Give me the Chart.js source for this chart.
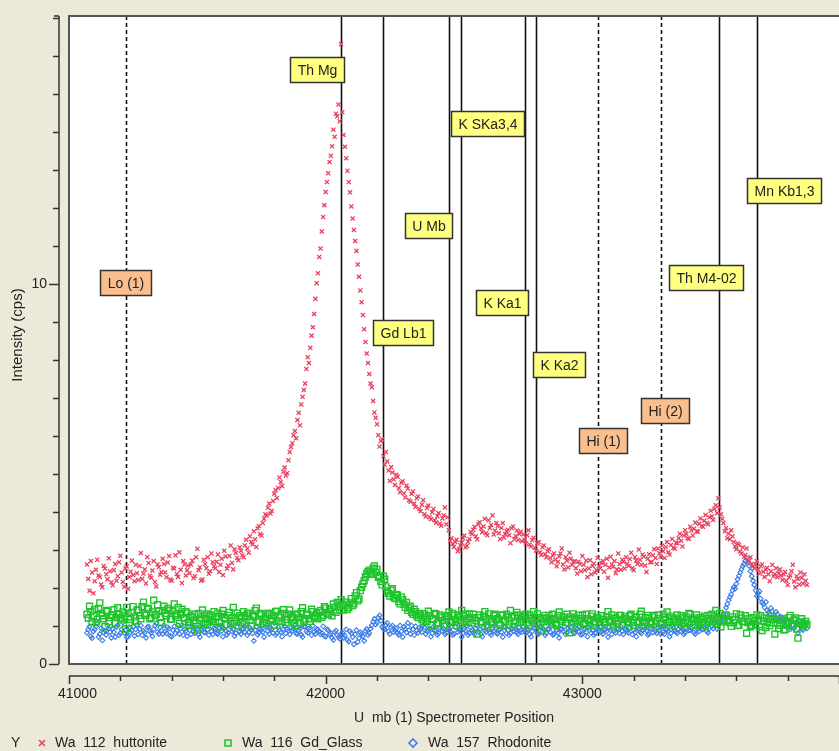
<!DOCTYPE html>
<html>
<head>
<meta charset="utf-8">
<script src="https://cdn.jsdelivr.net/npm/chart.js@4/dist/chart.umd.min.js"></script>
<style>
  html, body { margin: 0; padding: 0; background: #ECE9D8; }
  canvas { display: block; }
</style>
</head>
<body>
<canvas id="myChart" width="839" height="751"></canvas>
<script>
// spectrometer scan: two interleaved passes, 10 units apart, the second shifted by 5
const scanStart = 41070;
const scanStartB = 41075;
const scanStep = 10;

// Wa 112 huttonite (cps)
const huttonite = [
  2.62, 1.93, 2.41, 2.18, 2.74, 2.29, 2.02, 2.51, 2.23, 2.44,
  2.07, 2.63, 2.31, 2.85, 2.16, 2.52, 1.98, 2.43, 2.34, 2.61,
  2.21, 2.92, 2.38, 2.12, 2.66, 2.27, 2.71, 2.04, 2.55, 2.42,
  2.63, 2.28, 2.84, 2.19, 2.51, 2.37, 2.94, 2.13, 2.62, 2.47,
  2.39, 2.72, 2.31, 3.03, 2.54, 2.22, 2.63, 2.81, 2.44, 2.68,
  2.52, 2.88, 2.61, 2.34, 2.83, 2.59, 3.12, 2.49, 2.92, 2.73,
  2.98, 2.81, 3.27, 2.93, 3.21, 3.49, 3.08, 3.63, 3.38, 3.82,
  3.91, 4.22, 4.03, 4.48, 4.37, 4.91, 4.68, 5.17, 5.02, 5.58,
  5.81, 6.13, 6.42, 6.28, 7.03, 7.38, 8.07, 8.32, 8.86, 9.61,
  10.28, 10.93, 11.76, 12.42, 12.91, 13.37, 14.06, 14.48, 14.72, 16.31,
  13.92, 13.31, 12.68, 12.04, 11.42, 10.87, 10.19, 9.52, 8.81, 8.17,
  7.63, 7.28, 6.62, 6.31, 5.72, 5.91, 5.24, 5.33, 4.82, 5.04,
  4.71, 4.93, 4.52, 4.81, 4.38, 4.62, 4.27, 4.54, 4.13, 4.41,
  4.02, 4.31, 3.88, 4.17, 3.81, 4.08, 3.72, 3.97, 3.64, 3.91,
  3.68, 3.52, 3.31, 3.08, 3.27, 3.02, 3.19, 3.38, 3.11, 3.29,
  3.42, 3.61, 3.28, 3.73, 3.47, 3.82, 3.39, 3.58, 3.91, 3.51,
  3.63, 3.29, 3.71, 3.42, 3.53, 3.18, 3.62, 3.37, 3.26, 3.48,
  3.41, 3.17, 3.52, 3.09, 3.32, 2.98, 3.21, 2.87, 3.12, 2.81,
  3.02, 2.68, 2.91, 2.57, 2.83, 3.04, 2.49, 2.72, 2.93, 2.61,
  2.71, 2.38, 2.63, 2.84, 2.47, 2.29, 2.73, 2.58, 2.41, 2.79,
  2.52, 2.71, 2.61, 2.27, 2.82, 2.56, 2.39, 2.91, 2.48, 2.69,
  2.81, 2.58, 2.93, 2.47, 2.72, 3.01, 2.61, 2.83, 2.42, 2.89,
  2.68, 3.02, 2.63, 2.92, 3.11, 2.79, 3.21, 2.88, 3.29, 3.03,
  3.18, 3.43, 3.09, 3.52, 3.31, 3.61, 3.38, 3.72, 3.48, 3.83,
  3.61, 3.92, 3.68, 4.03, 3.79, 4.18, 4.36, 3.94, 3.71, 3.58,
  3.43, 3.52, 3.21, 3.02, 3.13, 2.91, 2.82, 3.04, 2.71, 2.63,
  2.52, 2.71, 2.38, 2.62, 2.29, 2.53, 2.18, 2.61, 2.37, 2.28,
  2.49, 2.21, 2.42, 2.08, 2.33, 2.61, 2.02, 2.24, 2.41, 2.12,
  2.19
];
const huttoniteB = [
  2.24, 2.71, 1.86, 2.48, 2.33, 2.09, 2.58, 2.36, 2.78, 2.15,
  2.47, 2.19, 2.68, 2.41, 2.03, 2.57, 2.29, 2.72, 2.18, 2.39,
  2.58, 2.24, 2.49, 2.81, 2.32, 2.46, 2.16, 2.62, 2.35, 2.77,
  2.41, 2.67, 2.22, 2.53, 2.86, 2.29, 2.48, 2.71, 2.33, 2.59,
  2.62, 2.26, 2.81, 2.47, 2.19, 2.74, 2.52, 2.38, 2.91, 2.57,
  2.69, 2.42, 2.77, 2.98, 2.51, 2.84, 2.66, 3.02, 2.79, 3.07,
  2.86, 3.12, 3.04, 3.36, 3.15, 3.28, 3.57, 3.42, 3.71, 3.94,
  4.11, 3.96, 4.29, 4.58, 4.63, 4.79, 5.06, 4.96, 5.36, 5.71,
  6.02, 5.94, 6.61, 6.83, 7.21, 7.76, 7.92, 8.64, 9.21, 10.02,
  10.71, 11.38, 12.07, 12.68, 13.21, 13.62, 13.87, 14.41, 14.28, 14.52,
  13.61, 12.98, 12.41, 11.72, 11.13, 10.51, 9.83, 9.18, 8.47, 7.92,
  7.38, 6.92, 6.48, 6.02, 5.87, 5.47, 5.58, 5.09, 5.18, 4.86,
  4.98, 4.63, 4.77, 4.49, 4.69, 4.31, 4.48, 4.22, 4.36, 4.08,
  4.19, 3.94, 4.11, 3.86, 3.99, 3.78, 3.89, 3.69, 3.83, 4.12,
  3.86, 3.24, 3.16, 3.21, 2.97, 3.12, 3.31, 3.07, 3.22, 3.47,
  3.53, 3.36, 3.68, 3.57, 3.62, 3.44, 3.78, 3.66, 3.41, 3.71,
  3.44, 3.58, 3.33, 3.49, 3.39, 3.57, 3.28, 3.51, 3.42, 3.23,
  3.27, 3.39, 3.14, 3.26, 3.06, 3.18, 2.94, 3.07, 2.89, 2.97,
  2.79, 2.86, 2.74, 2.69, 2.91, 2.62, 2.81, 2.54, 2.77, 2.68,
  2.52, 2.69, 2.44, 2.61, 2.72, 2.51, 2.36, 2.64, 2.47, 2.58,
  2.66, 2.43, 2.77, 2.54, 2.62, 2.71, 2.49, 2.63, 2.74, 2.51,
  2.64, 2.76, 2.52, 2.81, 2.63, 2.74, 2.88, 2.59, 2.77, 2.68,
  2.86, 2.79, 3.04, 2.82, 2.97, 3.08, 2.94, 3.13, 3.06, 3.19,
  3.31, 3.24, 3.38, 3.42, 3.29, 3.51, 3.56, 3.49, 3.69, 3.63,
  3.77, 3.71, 3.86, 3.89, 4.08, 3.97, 4.12, 3.82, 3.49, 3.31,
  3.28, 3.36, 3.09, 3.17, 2.96, 3.07, 2.87, 2.74, 2.81, 2.57,
  2.62, 2.48, 2.57, 2.43, 2.49, 2.36, 2.44, 2.31, 2.52, 2.39,
  2.33, 2.36, 2.19, 2.28, 2.44, 2.17, 2.31, 2.09, 2.27, 2.36,
  2.08
];

// Wa 116 Gd_Glass (cps)
const gdGlass = [
  1.31, 1.52, 1.12, 1.43, 1.18, 1.61, 1.27, 0.98, 1.39, 1.22,
  1.29, 1.08, 1.48, 1.21, 1.37, 0.92, 1.33, 1.17, 1.51, 1.13,
  1.42, 1.19, 1.63, 1.28, 1.47, 1.22, 1.68, 1.31, 1.39, 1.09,
  1.52, 1.27, 1.41, 1.18, 1.58, 1.32, 1.07, 1.44, 1.21, 1.34,
  1.02, 1.23, 1.31, 0.89, 1.14, 1.42, 1.19, 1.03, 1.29, 1.17,
  1.11, 1.34, 0.97, 1.41, 1.19, 1.28, 1.07, 1.49, 1.22, 1.01,
  1.21, 1.38, 1.09, 1.32, 0.99, 1.24, 1.47, 1.12, 1.29, 1.18,
  1.08, 1.31, 1.19, 1.02, 1.39, 1.22, 1.11, 1.33, 1.17, 1.42,
  1.23, 1.01, 1.32, 1.09, 1.48, 1.18, 1.29, 1.12, 1.38, 1.27,
  1.19, 1.41, 1.28, 1.47, 1.31, 1.39, 1.58, 1.36, 1.52, 1.69,
  1.42, 1.63, 1.49, 1.72, 1.58, 1.88, 1.71, 2.02, 2.19, 2.38,
  2.47, 2.36, 2.58, 2.49, 2.31, 2.08, 2.23, 1.92, 1.79, 1.98,
  1.72, 1.81, 1.58, 1.69, 1.49, 1.41, 1.52, 1.31, 1.38, 1.22,
  1.29, 1.11, 1.21, 1.39, 1.02, 1.18, 1.31, 1.08, 1.23, 0.99,
  1.18, 1.37, 1.09, 1.28, 1.01, 1.22, 1.41, 1.12, 1.19, 1.32,
  1.08, 1.21, 0.79, 1.29, 1.12, 1.38, 0.98, 1.19, 1.09, 1.31,
  1.19, 1.02, 1.28, 1.11, 1.22, 1.41, 0.99, 1.13, 1.29, 1.18,
  1.12, 1.31, 1.01, 1.19, 1.38, 1.09, 1.22, 0.88, 1.11, 1.21,
  1.28, 1.09, 1.19, 1.02, 1.37, 1.12, 1.23, 1.31, 0.82, 1.08,
  1.21, 0.99, 1.11, 1.29, 1.08, 1.19, 1.01, 1.32, 1.12, 1.22,
  1.02, 1.18, 1.09, 1.38, 1.11, 0.98, 1.21, 1.13, 1.28, 1.03,
  1.19, 1.08, 1.31, 1.01, 1.22, 1.12, 1.39, 0.99, 1.09, 1.21,
  1.11, 1.28, 0.98, 1.19, 1.08, 1.23, 1.37, 1.12, 1.01, 1.18,
  1.29, 1.09, 1.21, 0.99, 1.11, 1.31, 1.18, 1.02, 1.13, 1.22,
  1.09, 1.01, 1.28, 1.19, 1.12, 1.41, 1.21, 0.98, 1.11, 1.29,
  1.18, 0.99, 1.09, 1.32, 1.02, 1.21, 1.11, 0.81, 1.19, 1.02,
  1.12, 1.29, 0.98, 0.88, 1.21, 1.09, 1.01, 1.18, 0.79, 1.08,
  1.02, 1.19, 0.91, 1.11, 1.28, 0.99, 1.21, 0.68, 1.09, 1.01,
  1.12
];
const gdGlassB = [
  1.21, 1.38, 1.27, 1.09, 1.46, 1.33, 1.19, 1.41, 1.12, 1.28,
  1.43, 1.22, 1.31, 1.16, 1.27, 1.49, 1.08, 1.36, 1.24, 1.42,
  1.28, 1.51, 1.33, 1.44, 1.19, 1.37, 1.29, 1.56, 1.22, 1.41,
  1.33, 1.46, 1.18, 1.39, 1.27, 1.49, 1.31, 1.22, 1.38, 1.09,
  1.26, 1.14, 1.08, 1.33, 1.21, 1.06, 1.32, 1.24, 1.11, 1.38,
  1.24, 1.09, 1.31, 1.22, 1.03, 1.36, 1.21, 1.13, 1.34, 1.27,
  1.09, 1.27, 1.34, 1.16, 1.28, 1.41, 1.11, 1.33, 1.07, 1.26,
  1.34, 1.14, 1.27, 1.38, 1.12, 1.29, 1.43, 1.09, 1.31, 1.21,
  1.09, 1.29, 1.21, 1.38, 1.13, 1.31, 1.19, 1.44, 1.22, 1.34,
  1.36, 1.23, 1.51, 1.34, 1.44, 1.27, 1.49, 1.62, 1.41, 1.57,
  1.53, 1.44, 1.61, 1.54, 1.79, 1.66, 1.93, 2.11, 2.29, 2.43,
  2.39, 2.52, 2.41, 2.28, 2.17, 2.31, 2.03, 1.86, 1.94, 1.76,
  1.83, 1.64, 1.76, 1.57, 1.62, 1.47, 1.36, 1.44, 1.27, 1.33,
  1.18, 1.32, 1.12, 1.27, 1.19, 1.33, 1.06, 1.29, 1.14, 1.26,
  1.27, 1.12, 1.33, 1.17, 1.29, 1.08, 1.26, 1.31, 1.09, 1.22,
  1.31, 1.14, 1.22, 1.08, 1.26, 1.17, 1.32, 1.11, 1.27, 1.16,
  1.08, 1.29, 1.16, 1.31, 1.03, 1.22, 1.27, 1.36, 1.09, 1.24,
  1.26, 1.09, 1.29, 1.14, 1.21, 1.32, 1.04, 1.19, 1.28, 1.13,
  1.17, 1.31, 1.06, 1.27, 1.16, 1.22, 1.09, 1.18, 1.24, 1.32,
  1.13, 1.28, 1.19, 1.07, 1.31, 1.14, 1.26, 1.08, 1.21, 1.16,
  1.27, 1.11, 1.24, 1.16, 1.29, 1.19, 1.07, 1.28, 1.17, 1.24,
  1.11, 1.27, 1.16, 1.24, 1.09, 1.31, 1.13, 1.22, 1.28, 1.07,
  1.24, 1.13, 1.29, 1.06, 1.31, 1.17, 1.09, 1.26, 1.21, 1.12,
  1.16, 1.27, 1.07, 1.24, 1.33, 1.11, 1.21, 1.29, 1.06, 1.18,
  1.26, 1.19, 1.11, 1.31, 1.24, 1.06, 1.33, 1.19, 1.27, 1.14,
  1.09, 1.24, 1.16, 1.01, 1.29, 1.12, 1.27, 1.09, 0.98, 1.22,
  1.04, 1.16, 1.27, 1.13, 0.96, 1.19, 1.26, 1.08, 1.18, 0.93,
  1.14, 0.89, 1.08, 1.22, 1.03, 1.16, 0.92, 1.11, 1.19, 1.06,
  1.04
];

// Wa 157 Rhodonite (cps)
const rhodonite = [
  0.82, 0.98, 0.68, 0.91, 1.08, 0.79, 0.62, 0.88, 1.01, 0.84,
  0.93, 0.71, 1.02, 0.81, 1.09, 0.89, 0.72, 0.83, 0.99, 0.91,
  0.78, 1.01, 0.87, 0.69, 0.98, 0.82, 0.92, 1.07, 0.79, 0.88,
  1.02, 0.81, 0.93, 0.72, 0.99, 0.88, 0.79, 1.03, 0.91, 0.73,
  0.89, 1.01, 0.81, 0.92, 0.71, 0.98, 0.83, 0.91, 1.09, 0.78,
  0.92, 0.79, 1.01, 0.72, 0.88, 0.82, 0.99, 0.91, 0.81, 1.08,
  0.79, 0.92, 1.02, 0.83, 0.91, 0.61, 0.98, 0.82, 0.89, 0.71,
  1.01, 0.79, 0.92, 1.08, 0.81, 0.89, 0.72, 0.99, 0.91, 0.78,
  0.88, 1.02, 0.79, 0.93, 0.71, 0.98, 0.82, 0.91, 1.01, 0.79,
  0.91, 0.78, 0.99, 0.72, 0.89, 0.81, 0.63, 0.88, 0.71, 0.79,
  0.69, 0.91, 0.59, 0.81, 0.52, 0.89, 0.68, 0.79, 0.61, 0.92,
  0.81, 1.02, 1.19, 1.09, 1.28, 0.98, 0.91, 1.08, 0.79, 1.01,
  0.89, 0.81, 1.01, 0.71, 0.92, 1.08, 0.79, 0.91, 0.99, 0.82,
  0.91, 1.02, 0.79, 0.89, 0.72, 0.98, 0.88, 0.81, 1.01, 0.92,
  0.82, 0.91, 0.99, 0.79, 1.08, 0.89, 0.71, 0.92, 1.01, 0.81,
  0.89, 0.78, 1.01, 0.91, 0.72, 0.88, 0.99, 0.81, 0.92, 1.02,
  0.79, 0.92, 0.71, 0.98, 0.88, 0.81, 1.01, 0.91, 0.78, 0.89,
  0.99, 0.82, 0.91, 0.72, 1.02, 0.89, 0.79, 0.98, 0.91, 0.81,
  0.92, 1.01, 0.79, 0.88, 0.69, 0.91, 0.99, 0.82, 0.89, 1.08,
  0.81, 0.92, 0.99, 0.79, 0.91, 0.72, 1.01, 0.88, 0.81, 0.92,
  0.98, 0.79, 0.91, 0.71, 0.89, 1.01, 0.82, 0.92, 0.99, 0.78,
  0.91, 0.82, 1.02, 0.89, 0.72, 0.92, 0.81, 0.99, 0.88, 0.79,
  0.92, 1.01, 0.81, 0.89, 0.99, 0.79, 0.91, 0.72, 1.02, 0.88,
  0.81, 0.99, 0.91, 0.82, 1.01, 0.89, 1.08, 0.79, 0.92, 1.02,
  0.91, 1.02, 0.82, 1.09, 0.93, 1.01, 1.18, 1.12, 1.31, 1.48,
  1.68, 1.83, 2.02, 2.11, 2.32, 2.49, 2.63, 2.79, 2.58, 2.31,
  2.08, 1.79, 1.91, 1.62, 1.49, 1.41, 1.28, 1.39, 1.19, 1.31,
  1.12, 1.21, 0.99, 1.09, 0.91, 1.02, 1.18, 0.82, 0.98, 0.89,
  1.01
];
const rhodoniteB = [
  0.91, 0.73, 0.86, 0.99, 0.71, 0.94, 0.83, 0.77, 0.93, 0.69,
  0.84, 0.98, 0.76, 0.91, 0.82, 0.71, 0.97, 0.88, 0.74, 1.03,
  0.92, 0.76, 0.83, 0.97, 0.86, 0.73, 1.01, 0.84, 0.96, 0.79,
  0.86, 0.97, 0.74, 0.89, 0.81, 1.02, 0.93, 0.76, 0.87, 0.99,
  0.78, 0.86, 0.97, 0.79, 0.92, 0.84, 0.99, 0.76, 0.86, 0.94,
  0.81, 0.96, 0.87, 0.93, 0.77, 1.02, 0.86, 0.74, 0.97, 0.85,
  0.93, 0.84, 0.76, 0.95, 0.81, 0.89, 0.77, 0.93, 0.84, 0.98,
  0.86, 0.94, 0.82, 0.76, 0.97, 0.84, 0.92, 0.81, 0.87, 0.96,
  0.93, 0.81, 0.89, 0.77, 0.99, 0.86, 0.94, 0.76, 0.84, 0.92,
  0.86, 0.82, 0.74, 0.91, 0.78, 0.69, 0.84, 0.76, 0.66, 0.82,
  0.74, 0.63, 0.86, 0.71, 0.78, 0.58, 0.83, 0.73, 0.87, 0.76,
  0.93, 1.11, 1.04, 1.22, 1.14, 0.93, 1.02, 0.86, 0.97, 0.84,
  0.94, 0.77, 0.86, 0.98, 0.83, 0.89, 1.01, 0.76, 0.88, 0.95,
  0.84, 0.97, 0.86, 0.93, 0.81, 0.89, 0.77, 0.96, 0.87, 0.78,
  0.94, 0.86, 0.76, 0.97, 0.84, 0.93, 0.81, 0.88, 0.76, 0.96,
  0.83, 0.94, 0.86, 0.78, 0.97, 0.84, 0.91, 0.76, 0.87, 0.82,
  0.91, 0.84, 0.97, 0.81, 0.76, 0.94, 0.86, 0.82, 0.96, 0.84,
  0.87, 0.93, 0.78, 0.86, 0.94, 0.81, 0.97, 0.85, 0.76, 0.92,
  0.84, 0.77, 0.96, 0.82, 0.93, 0.86, 0.78, 0.94, 0.97, 0.83,
  0.94, 0.86, 0.77, 0.93, 0.84, 0.96, 0.82, 0.76, 0.94, 0.87,
  0.84, 0.92, 0.86, 0.97, 0.78, 0.87, 0.94, 0.81, 0.86, 0.93,
  0.86, 0.95, 0.78, 0.83, 0.96, 0.84, 0.89, 0.93, 0.76, 0.94,
  0.83, 0.86, 0.97, 0.79, 0.84, 0.93, 0.86, 0.81, 0.95, 0.84,
  0.92, 0.86, 0.78, 0.96, 0.88, 0.94, 0.83, 0.97, 0.86, 0.91,
  0.97, 0.86, 0.94, 0.99, 1.06, 0.92, 1.09, 1.21, 1.24, 1.58,
  1.76, 1.94, 1.98, 2.23, 2.41, 2.57, 2.71, 2.68, 2.44, 2.19,
  1.94, 1.86, 1.72, 1.58, 1.63, 1.36, 1.47, 1.24, 1.37, 1.18,
  1.24, 1.07, 1.16, 1.02, 1.11, 0.94, 1.06, 1.13, 0.92, 1.03,
  0.94
];

// element / background marker lines
const lineNames = ['Lo (1)', 'Th Mg', 'Gd Lb1', 'U Mb', 'K SKa3,4', 'K Ka1', 'K Ka2', 'Hi (1)', 'Hi (2)', 'Th M4-02', 'Mn Kb1,3'];
const linePositions = [41222, 42058, 42225, 42480, 42527, 42776, 42821, 43061, 43308, 43534, 43680];
const lineIsBackground = [true, false, false, false, false, false, false, true, true, false, false];
const labelPositions = [41222, 41966, 42303, 42402, 42630, 42687, 42911, 43082, 43322, 43480, 43785];
const labelLevels = [10.03, 15.63, 8.71, 11.53, 14.21, 9.5, 7.89, 5.87, 6.66, 10.18, 12.47];

const xTickLabels = [41000, 42000, 43000];
const yTickLabels = [0, 10];
const seriesNames = ['Wa  112  huttonite', 'Wa  116  Gd_Glass', 'Wa  157  Rhodonite'];
const seriesColors = ['#E8415F', '#1FC42C', '#3C7DE6'];

const FONT = '14px "Liberation Sans", Arial, sans-serif';

function toPoints(values, valuesB) {
  const a = values.map((v, i) => ({ x: scanStart + i * scanStep, y: v }));
  const b = valuesB.map((v, i) => ({ x: scanStartB + i * scanStep, y: v }));
  return a.concat(b);
}

const chartFrame = {
  id: 'chartFrame',
  beforeDraw(chart) {
    const { ctx, chartArea: a } = chart;
    ctx.save();
    ctx.fillStyle = '#ECE9D8';
    ctx.fillRect(0, 0, chart.width, chart.height);
    ctx.fillStyle = '#FFFFFF';
    ctx.fillRect(a.left, a.top, a.right - a.left, a.bottom - a.top);
    ctx.restore();
  },
  beforeDatasetsDraw(chart) {
    const { ctx, chartArea: a, scales: { x, y } } = chart;
    ctx.save();
    ctx.beginPath();
    ctx.rect(a.left, a.top, a.right - a.left, a.bottom - a.top);
    ctx.clip();
    linePositions.forEach((p, i) => {
      const px = Math.round(x.getPixelForValue(p)) + 0.5;
      ctx.strokeStyle = '#111';
      ctx.lineWidth = 1.6;
      ctx.setLineDash(lineIsBackground[i] ? [4, 3] : []);
      ctx.beginPath();
      ctx.moveTo(px, a.top);
      ctx.lineTo(px, a.bottom);
      ctx.stroke();
    });
    ctx.setLineDash([]);
    ctx.font = FONT;
    ctx.textAlign = 'center';
    ctx.textBaseline = 'middle';
    lineNames.forEach((name, i) => {
      const cx = x.getPixelForValue(labelPositions[i]);
      const cy = y.getPixelForValue(labelLevels[i]);
      const w = Math.round(ctx.measureText(name).width + 14);
      const h = 25;
      const bx = Math.round(cx - w / 2) + 0.5;
      const by = Math.round(cy - h / 2) + 0.5;
      ctx.fillStyle = lineIsBackground[i] ? '#F9BF8F' : '#FFFF80';
      ctx.fillRect(bx, by, w, h);
      ctx.strokeStyle = '#333';
      ctx.lineWidth = 1.5;
      ctx.strokeRect(bx, by, w, h);
      ctx.fillStyle = '#222';
      ctx.fillText(name, bx + w / 2, by + h / 2 + 1);
    });
    ctx.restore();
  },
  afterDraw(chart) {
    const { ctx, chartArea: a, scales: { x, y } } = chart;
    ctx.save();
    // plot frame (right side runs off the window)
    ctx.strokeStyle = '#555';
    ctx.lineWidth = 2;
    ctx.strokeRect(a.left, a.top, a.right - a.left + 4, a.bottom - a.top);

    ctx.strokeStyle = '#333';
    ctx.fillStyle = '#222';
    ctx.font = FONT;
    ctx.lineWidth = 1.5;

    // detached y axis
    const ax = a.left - 10;
    ctx.beginPath();
    ctx.moveTo(ax, a.top);
    ctx.lineTo(ax, a.bottom);
    ctx.moveTo(ax - 5, a.top);
    ctx.lineTo(ax, a.top);
    for (let v = 0; v <= 17; v++) {
      const py = Math.round(y.getPixelForValue(v)) + 0.5;
      const len = yTickLabels.includes(v) ? 10 : 6;
      ctx.moveTo(ax - len, py);
      ctx.lineTo(ax, py);
    }
    ctx.stroke();
    ctx.textAlign = 'right';
    ctx.textBaseline = 'middle';
    yTickLabels.forEach(v => ctx.fillText(String(v), ax - 12, y.getPixelForValue(v)));

    // detached x axis
    const ay = a.bottom + 12;
    ctx.beginPath();
    ctx.moveTo(a.left, ay);
    ctx.lineTo(a.right, ay);
    for (let v = 41000; v <= 44000; v += 200) {
      const px = Math.round(x.getPixelForValue(v)) + 0.5;
      const len = v % 1000 === 0 ? 8 : 5;
      ctx.moveTo(px, ay);
      ctx.lineTo(px, ay + len);
    }
    ctx.stroke();
    ctx.textAlign = 'center';
    xTickLabels.forEach(v => {
      const label = String(v);
      const w = ctx.measureText(label).width;
      let px = x.getPixelForValue(v);
      if (px - w / 2 < a.left - 11) px = a.left - 11 + w / 2;
      ctx.fillText(label, px, ay + 18);
    });

    // axis titles
    ctx.fillText('U  mb (1) Spectrometer Position', (a.left + a.right) / 2, ay + 42);
    ctx.save();
    ctx.translate(18, (a.top + a.bottom) / 2 - 5);
    ctx.rotate(-Math.PI / 2);
    ctx.font = '15px "Liberation Sans", Arial, sans-serif';
    ctx.fillText('Intensity (cps)', 0, 0);
    ctx.restore();

    // legend
    const ly = 743;
    ctx.textAlign = 'left';
    ctx.fillText('Y', 11, ly);
    const markerX = [42, 228, 413];
    const textX = [55, 242, 428];
    seriesNames.forEach((name, i) => {
      const mx = markerX[i];
      ctx.strokeStyle = seriesColors[i];
      ctx.lineWidth = 1.6;
      ctx.beginPath();
      if (i === 0) {
        ctx.moveTo(mx - 3, ly - 3); ctx.lineTo(mx + 3, ly + 3);
        ctx.moveTo(mx + 3, ly - 3); ctx.lineTo(mx - 3, ly + 3);
      } else if (i === 1) {
        ctx.rect(mx - 3, ly - 3, 6, 6);
      } else {
        ctx.moveTo(mx, ly - 4); ctx.lineTo(mx + 4, ly);
        ctx.lineTo(mx, ly + 4); ctx.lineTo(mx - 4, ly); ctx.closePath();
      }
      ctx.stroke();
      ctx.fillStyle = '#222';
      ctx.fillText(name, textX[i], ly);
    });
    ctx.restore();
  }
};

const ctx = document.getElementById('myChart').getContext('2d');
const spectrumChart = new Chart(ctx, {
  type: 'scatter',
  data: {
    datasets: [{
      label: seriesNames[0],
      data: toPoints(huttonite, huttoniteB),
      pointStyle: 'crossRot',
      pointRadius: 2.9,
      borderWidth: 1.3,
      borderColor: seriesColors[0],
      backgroundColor: seriesColors[0]
    }, {
      label: seriesNames[1],
      data: toPoints(gdGlass, gdGlassB),
      pointStyle: 'rect',
      pointRadius: 4.2,
      borderWidth: 1.4,
      borderColor: seriesColors[1],
      backgroundColor: 'rgba(255,255,255,0)'
    }, {
      label: seriesNames[2],
      data: toPoints(rhodonite, rhodoniteB),
      pointStyle: 'rectRot',
      pointRadius: 2.4,
      borderWidth: 1.1,
      borderColor: seriesColors[2],
      backgroundColor: 'rgba(255,255,255,0)'
    }]
  },
  options: {
    responsive: false,
    animation: false,
    events: [],
    layout: { autoPadding: false, padding: { left: 69, top: 16, right: 0, bottom: 87 } },
    scales: {
      x: { type: 'linear', min: 41000, max: 44000, display: false },
      y: { min: 0, max: 17.05, display: false }
    },
    plugins: {
      legend: { display: false },
      tooltip: { enabled: false }
    }
  },
  plugins: [chartFrame]
});
</script>
</body>
</html>
